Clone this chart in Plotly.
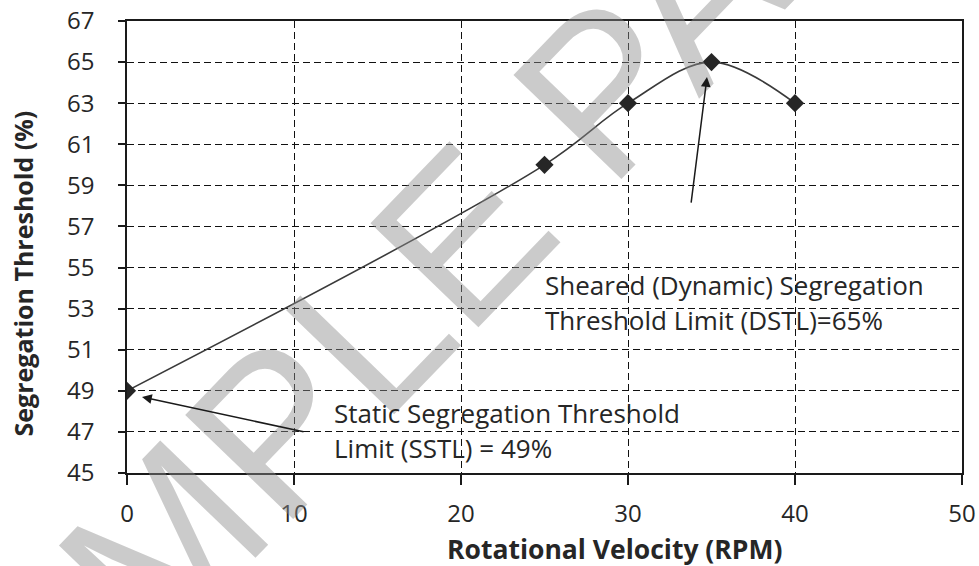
import plotly.graph_objects as go

# Data
rpm = [0, 25, 30, 35, 40]
threshold = [49, 60, 63, 65, 63]
x_ticks = [0, 10, 20, 30, 40, 50]
y_ticks = [45, 47, 49, 51, 53, 55, 57, 59, 61, 63, 65, 67]

FONT = "Open Sans"
TXT = "#262626"

fig = go.Figure()
fig.add_trace(go.Scatter(
    x=rpm, y=threshold, mode="lines+markers",
    line=dict(color="#3a3a3a", width=1.6, shape="spline", smoothing=1.0),
    marker=dict(symbol="diamond", size=14, color="#262626"),
    showlegend=False, hoverinfo="skip",
))

axis_common = dict(
    showline=True, linecolor="#1a1a1a", linewidth=1.6, mirror=True,
    showgrid=True, gridcolor="#111111", gridwidth=1.3, griddash="7px,4px",
    zeroline=False, ticks="outside", tickcolor="#1a1a1a", tickwidth=1.6,
    tickfont=dict(family=FONT, size=24, color=TXT), automargin=False,
)

fig.update_xaxes(range=[0, 50], tickvals=x_ticks, ticklen=10,
                 ticklabelstandoff=8, **axis_common)
fig.update_yaxes(range=[45, 67], tickvals=y_ticks, ticklen=7,
                 ticklabelstandoff=19, **axis_common)

ann = []
# watermark
ann.append(dict(text="SAMPLE PAPER", xref="paper", yref="paper", x=0.42, y=0.56,
                showarrow=False, textangle=-46,
                font=dict(family="Liberation Sans", size=218, color="rgba(140,140,140,0.45)")))
# axis titles
ann.append(dict(text="<b>Rotational Velocity (RPM)</b>", xref="paper", yref="paper",
                x=0.584, y=-0.168, showarrow=False, xanchor="center", yanchor="middle",
                font=dict(family=FONT, size=26.5, color=TXT)))
ann.append(dict(text="<b>Segregation Threshold (%)</b>", xref="paper", yref="paper",
                x=-0.124, y=0.4425, showarrow=False, textangle=-90,
                xanchor="center", yanchor="middle",
                font=dict(family=FONT, size=25, color=TXT)))
# annotation texts
lab_font = dict(family=FONT, size=26, color=TXT)
for txt, xx, yy in [("Static Segregation Threshold", 12.28, 47.92),
                    ("Limit (SSTL) = 49%", 12.28, 46.22),
                    ("Sheared (Dynamic) Segregation", 24.91, 54.15),
                    ("Threshold Limit (DSTL)=65%", 24.91, 52.45)]:
    ann.append(dict(text=txt, x=xx, y=yy, xref="x", yref="y", showarrow=False,
                    xanchor="left", yanchor="middle", font=lab_font))
# arrows
for tx, ty, hx, hy in [(10.66, 46.99, 0.9, 48.70), (33.77, 58.09, 34.73, 64.27)]:
    ann.append(dict(text="", x=hx, y=hy, xref="x", yref="y", ax=tx, ay=ty,
                    axref="x", ayref="y", showarrow=True, arrowhead=2,
                    arrowsize=1.3, arrowwidth=1.5, arrowcolor="#1a1a1a"))

fig.update_layout(
    width=979, height=566,
    margin=dict(l=127, r=17, t=21, b=93),
    paper_bgcolor="white", plot_bgcolor="white",
    annotations=ann,
)
fig.write_html("out.html")
